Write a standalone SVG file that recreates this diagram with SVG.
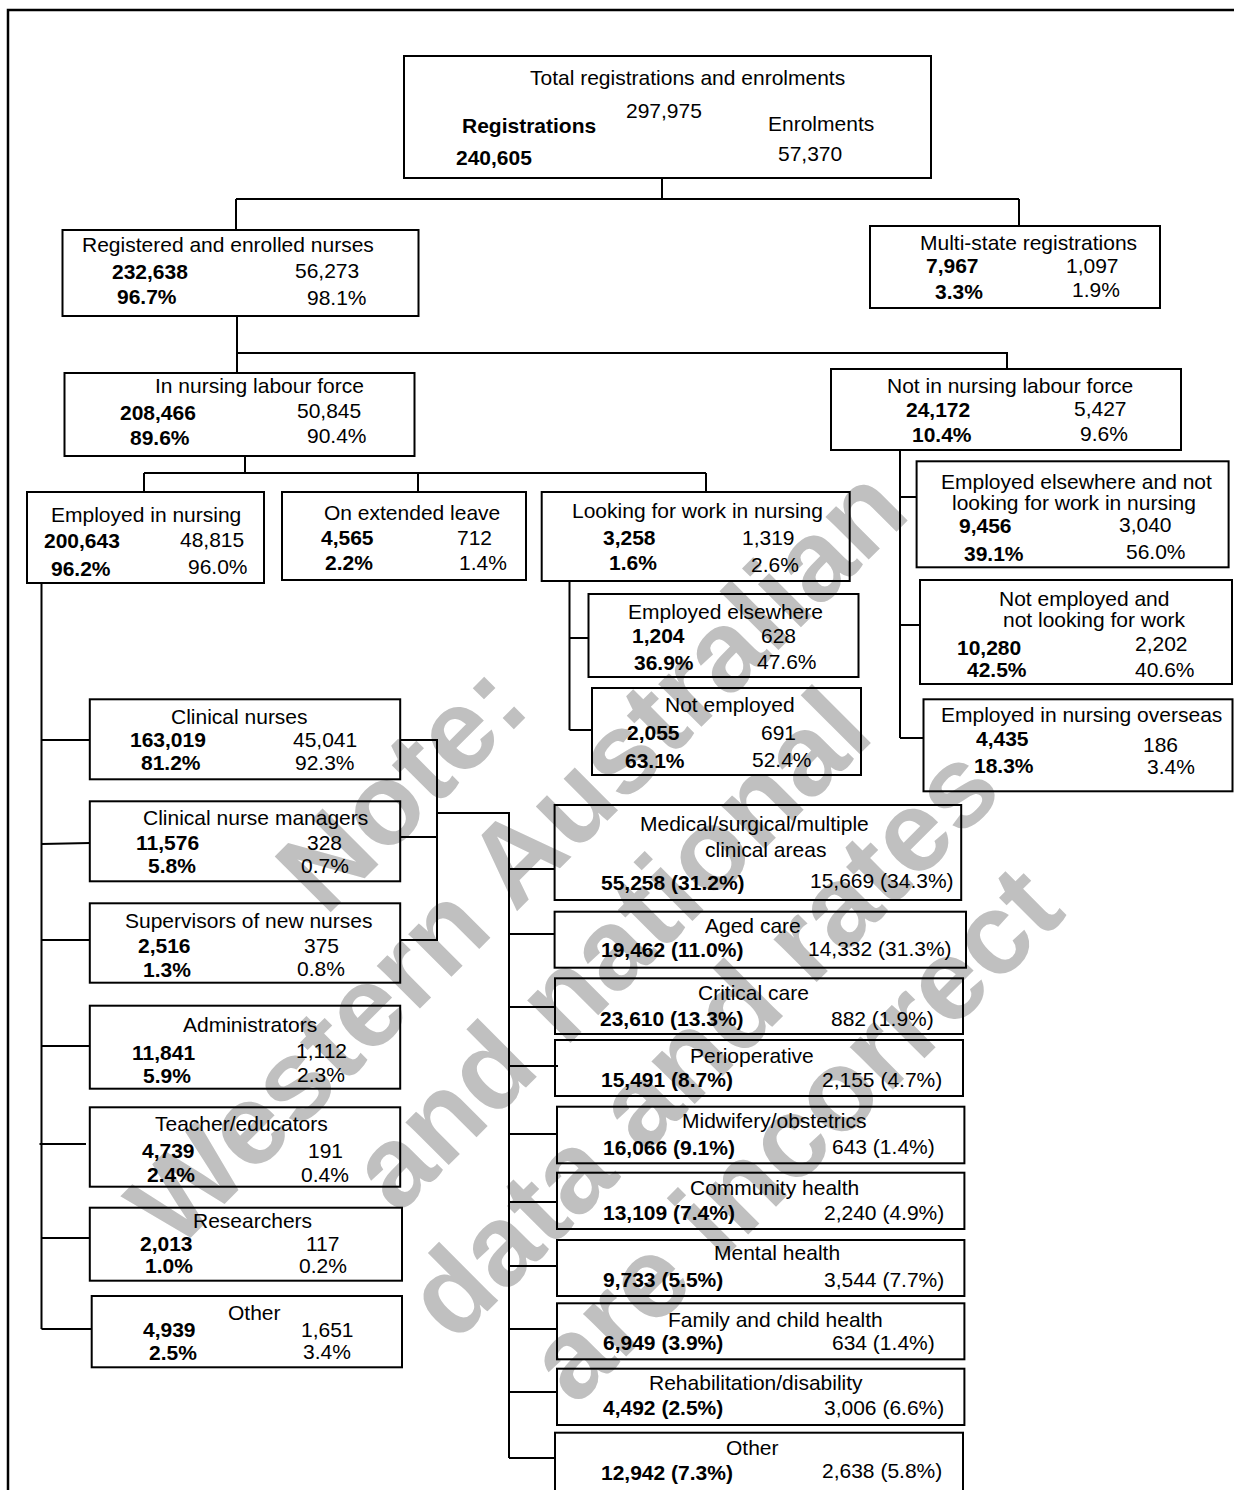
<svg xmlns="http://www.w3.org/2000/svg" width="1234" height="1490" viewBox="0 0 1234 1490">
<style>
.bx{fill:none;stroke:#000;stroke-width:2}
.t{font-family:"Liberation Sans",Arial,sans-serif;font-size:21px;fill:#000}
.b{font-family:"Liberation Sans",Arial,sans-serif;font-size:21px;font-weight:bold;fill:#000}
.wm{font-family:"Liberation Sans",Arial,sans-serif;font-size:115px;font-weight:bold;fill:#c0c0c0;text-anchor:middle}
.cn{fill:none;stroke:#000;stroke-width:2}
</style>
<rect width="1234" height="1490" fill="#fff"/>
<g id="watermark" transform="rotate(-45)">
<text class="wm" x="-272" y="879">Note:</text>
<text class="wm" x="-240" y="1010">Western Australian</text>
<text class="wm" x="-240" y="1141">and national</text>
<text class="wm" x="-240" y="1272">data and rates</text>
<text class="wm" x="-240" y="1402">are incorrect</text>
</g>
<path d="M8,1492 V10 H1236" fill="none" stroke="#000" stroke-width="2.5"/>
<g id="connectors" class="cn">
<path d="M662,178 V199 M236,199 H1019 M236,199 V230 M1019,199 V226"/>
<path d="M237,316 V373 M237,353 H1007 V369"/>
<path d="M245,456 V473 M144,473 H706 M144,473 V492 M418,473 V492 M706,473 V492"/>
<path d="M900,450 V738 M900,497 H917 M900,625 H920 M900,738 H923"/>
<path d="M569.5,581 V730 M569.5,638 H588 M569.5,730 H592"/>
<path d="M41.5,583 V1329 M41.5,740 H90 M41.5,844 L90,843 M41.5,940 H90 M41.5,1046 H90 M39.5,1144 H86 M41.5,1238 H90 M41.5,1329 H92"/>
<path d="M400,740 H437 V940 H400 M400,837 H437 M437,813 H509 V1458 M509,869 H555 M509,934 H555 M509,1007 H555 M509,1066 H558 M509,1134 H557 M509,1202 H557 M509,1266 H557 M509,1329 H557 M509,1392 H557 M509,1458 H555"/>
</g>
<g id="total">
<rect class="bx" x="404" y="56" width="527" height="122"/>
<text class="t" x="530" y="85">Total registrations and enrolments</text>
<text class="t" x="626" y="118">297,975</text>
<text class="b" x="462" y="133">Registrations</text>
<text class="t" x="768" y="131">Enrolments</text>
<text class="b" x="456" y="165">240,605</text>
<text class="t" x="778" y="161">57,370</text>
</g>
<g id="registered">
<rect class="bx" x="62.5" y="230" width="356" height="86"/>
<text class="t" x="82" y="252">Registered and enrolled nurses</text>
<text class="b" x="112" y="279">232,638</text>
<text class="t" x="295" y="278">56,273</text>
<text class="b" x="117" y="304">96.7%</text>
<text class="t" x="307" y="305">98.1%</text>
</g>
<g id="multistate">
<rect class="bx" x="870" y="226" width="290" height="82"/>
<text class="t" x="920" y="250">Multi-state registrations</text>
<text class="b" x="926" y="273">7,967</text>
<text class="t" x="1066" y="273">1,097</text>
<text class="b" x="935" y="299">3.3%</text>
<text class="t" x="1072" y="297">1.9%</text>
</g>
<g id="inlabour">
<rect class="bx" x="64.5" y="373" width="350" height="83"/>
<text class="t" x="155" y="393">In nursing labour force</text>
<text class="b" x="120" y="420">208,466</text>
<text class="t" x="297" y="418">50,845</text>
<text class="b" x="130" y="445">89.6%</text>
<text class="t" x="307" y="443">90.4%</text>
</g>
<g id="notlabour">
<rect class="bx" x="831" y="369" width="350" height="81"/>
<text class="t" x="887" y="393">Not in nursing labour force</text>
<text class="b" x="906" y="417">24,172</text>
<text class="t" x="1074" y="416">5,427</text>
<text class="b" x="912" y="442">10.4%</text>
<text class="t" x="1080" y="441">9.6%</text>
</g>
<g id="employed">
<rect class="bx" x="27" y="492" width="237" height="91"/>
<text class="t" x="51" y="522">Employed in nursing</text>
<text class="b" x="44" y="548">200,643</text>
<text class="t" x="180" y="547">48,815</text>
<text class="b" x="51" y="576">96.2%</text>
<text class="t" x="188" y="574">96.0%</text>
</g>
<g id="leave">
<rect class="bx" x="282" y="492" width="244" height="88"/>
<text class="t" x="324" y="520">On extended leave</text>
<text class="b" x="321" y="545">4,565</text>
<text class="t" x="457" y="545">712</text>
<text class="b" x="325" y="570">2.2%</text>
<text class="t" x="459" y="570">1.4%</text>
</g>
<g id="looking">
<rect class="bx" x="541.7" y="492" width="308" height="89"/>
<text class="t" x="572" y="518">Looking for work in nursing</text>
<text class="b" x="603" y="545">3,258</text>
<text class="t" x="742" y="545">1,319</text>
<text class="b" x="609" y="570">1.6%</text>
<text class="t" x="751" y="572">2.6%</text>
</g>
<g id="elsewherenot">
<rect class="bx" x="916.6" y="461.3" width="312" height="106"/>
<text class="t" x="941" y="489">Employed elsewhere and not</text>
<text class="t" x="952" y="510">looking for work in nursing</text>
<text class="b" x="959" y="533">9,456</text>
<text class="t" x="1119" y="532">3,040</text>
<text class="b" x="964" y="561">39.1%</text>
<text class="t" x="1126" y="559">56.0%</text>
</g>
<g id="notemployednotlooking">
<rect class="bx" x="920" y="580" width="312" height="104"/>
<text class="t" x="999" y="606">Not employed and</text>
<text class="t" x="1003" y="627">not looking for work</text>
<text class="b" x="957" y="655">10,280</text>
<text class="t" x="1135" y="651">2,202</text>
<text class="b" x="967" y="677">42.5%</text>
<text class="t" x="1135" y="677">40.6%</text>
</g>
<g id="overseas">
<rect class="bx" x="923.5" y="699.3" width="309" height="92"/>
<text class="t" x="941" y="722">Employed in nursing overseas</text>
<text class="b" x="976" y="746">4,435</text>
<text class="t" x="1143" y="752">186</text>
<text class="b" x="974" y="773">18.3%</text>
<text class="t" x="1147" y="774">3.4%</text>
</g>
<g id="empelsewhere">
<rect class="bx" x="588.5" y="594" width="270" height="83"/>
<text class="t" x="628" y="619">Employed elsewhere</text>
<text class="b" x="632" y="643">1,204</text>
<text class="t" x="761" y="643">628</text>
<text class="b" x="634" y="670">36.9%</text>
<text class="t" x="757" y="669">47.6%</text>
</g>
<g id="notemployed">
<rect class="bx" x="592" y="688" width="269" height="87"/>
<text class="t" x="665" y="712">Not employed</text>
<text class="b" x="627" y="740">2,055</text>
<text class="t" x="761" y="740">691</text>
<text class="b" x="625" y="768">63.1%</text>
<text class="t" x="752" y="767">52.4%</text>
</g>
<g id="clinical">
<rect class="bx" x="89.8" y="699.3" width="310.4" height="80"/>
<text class="t" x="171" y="724">Clinical nurses</text>
<text class="b" x="130" y="747">163,019</text>
<text class="t" x="293" y="747">45,041</text>
<text class="b" x="141" y="770">81.2%</text>
<text class="t" x="295" y="770">92.3%</text>
</g>
<g id="managers">
<rect class="bx" x="89.8" y="801.3" width="310.4" height="80"/>
<text class="t" x="143" y="825">Clinical nurse managers</text>
<text class="b" x="136" y="850">11,576</text>
<text class="t" x="307" y="850">328</text>
<text class="b" x="148" y="873">5.8%</text>
<text class="t" x="301" y="873">0.7%</text>
</g>
<g id="supervisors">
<rect class="bx" x="89.8" y="903.3" width="310.4" height="79.4"/>
<text class="t" x="125" y="928">Supervisors of new nurses</text>
<text class="b" x="138" y="953">2,516</text>
<text class="t" x="304" y="953">375</text>
<text class="b" x="143" y="977">1.3%</text>
<text class="t" x="297" y="976">0.8%</text>
</g>
<g id="administrators">
<rect class="bx" x="89.8" y="1005.7" width="310.4" height="83"/>
<text class="t" x="183" y="1032">Administrators</text>
<text class="b" x="132" y="1060">11,841</text>
<text class="t" x="296" y="1058">1,112</text>
<text class="b" x="143" y="1083">5.9%</text>
<text class="t" x="297" y="1082">2.3%</text>
</g>
<g id="teachers">
<rect class="bx" x="89.8" y="1107.3" width="310.4" height="79.4"/>
<text class="t" x="155" y="1131">Teacher/educators</text>
<text class="b" x="142" y="1158">4,739</text>
<text class="t" x="308" y="1158">191</text>
<text class="b" x="147" y="1182">2.4%</text>
<text class="t" x="301" y="1182">0.4%</text>
</g>
<g id="researchers">
<rect class="bx" x="89.8" y="1207.7" width="312.2" height="73"/>
<text class="t" x="193" y="1228">Researchers</text>
<text class="b" x="140" y="1251">2,013</text>
<text class="t" x="306" y="1251">117</text>
<text class="b" x="145" y="1273">1.0%</text>
<text class="t" x="299" y="1273">0.2%</text>
</g>
<g id="other-role">
<rect class="bx" x="91.7" y="1296" width="310.3" height="71.3"/>
<text class="t" x="228" y="1320">Other</text>
<text class="b" x="143" y="1337">4,939</text>
<text class="t" x="301" y="1337">1,651</text>
<text class="b" x="149" y="1360">2.5%</text>
<text class="t" x="303" y="1359">3.4%</text>
</g>
<g id="medical">
<rect class="bx" x="554.6" y="805" width="406.6" height="95"/>
<text class="t" x="640" y="831">Medical/surgical/multiple</text>
<text class="t" x="705" y="857">clinical areas</text>
<text class="b" x="601" y="890">55,258 (31.2%)</text>
<text class="t" x="810" y="888">15,669 (34.3%)</text>
</g>
<g id="aged">
<rect class="bx" x="554.6" y="911.7" width="411.4" height="56"/>
<text class="t" x="705" y="933">Aged care</text>
<text class="b" x="601" y="957">19,462 (11.0%)</text>
<text class="t" x="808" y="956">14,332 (31.3%)</text>
</g>
<g id="critical">
<rect class="bx" x="555" y="978.3" width="408" height="55.7"/>
<text class="t" x="698" y="1000">Critical care</text>
<text class="b" x="600" y="1026">23,610 (13.3%)</text>
<text class="t" x="831" y="1026">882 (1.9%)</text>
</g>
<g id="perioperative">
<rect class="bx" x="555" y="1040" width="408" height="56"/>
<text class="t" x="690" y="1063">Perioperative</text>
<text class="b" x="601" y="1087">15,491 (8.7%)</text>
<text class="t" x="822" y="1087">2,155 (4.7%)</text>
</g>
<g id="midwifery">
<rect class="bx" x="557" y="1106.7" width="407.4" height="56.6"/>
<text class="t" x="682" y="1128">Midwifery/obstetrics</text>
<text class="b" x="603" y="1155">16,066 (9.1%)</text>
<text class="t" x="832" y="1154">643 (1.4%)</text>
</g>
<g id="community">
<rect class="bx" x="557" y="1172.7" width="407.4" height="56.3"/>
<text class="t" x="690" y="1195">Community health</text>
<text class="b" x="603" y="1220">13,109 (7.4%)</text>
<text class="t" x="824" y="1220">2,240 (4.9%)</text>
</g>
<g id="mental">
<rect class="bx" x="557" y="1240" width="407.4" height="56"/>
<text class="t" x="714" y="1260">Mental health</text>
<text class="b" x="603" y="1287">9,733 (5.5%)</text>
<text class="t" x="824" y="1287">3,544 (7.7%)</text>
</g>
<g id="family">
<rect class="bx" x="557" y="1303.3" width="407.4" height="56"/>
<text class="t" x="668" y="1327">Family and child health</text>
<text class="b" x="603" y="1350">6,949 (3.9%)</text>
<text class="t" x="832" y="1350">634 (1.4%)</text>
</g>
<g id="rehab">
<rect class="bx" x="557" y="1368.7" width="407.4" height="56.3"/>
<text class="t" x="649" y="1390">Rehabilitation/disability</text>
<text class="b" x="603" y="1415">4,492 (2.5%)</text>
<text class="t" x="824" y="1415">3,006 (6.6%)</text>
</g>
<g id="other-area">
<rect class="bx" x="555" y="1432.7" width="408" height="70"/>
<text class="t" x="726" y="1455">Other</text>
<text class="b" x="601" y="1480">12,942 (7.3%)</text>
<text class="t" x="822" y="1478">2,638 (5.8%)</text>
</g>
</svg>
